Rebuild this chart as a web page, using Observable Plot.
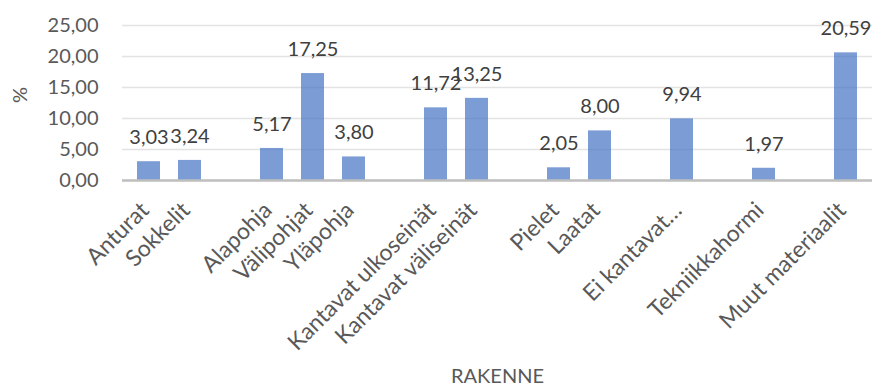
<!DOCTYPE html>
<html>
<head>
<meta charset="utf-8">
<script src="https://cdn.jsdelivr.net/npm/d3@7"></script>
<script src="https://cdn.jsdelivr.net/npm/@observablehq/plot@0.6"></script>
<style>
  html, body { margin: 0; padding: 0; background: white; }
</style>
</head>
<body>
<div id="chart"></div>
<script>
// Categories (empty strings are the blank gaps between groups in the original chart)
const categories = ["Anturat", "Sokkelit", "", "Alapohja", "Välipohjat", "Yläpohja", "",
  "Kantavat ulkoseinät", "Kantavat väliseinät", "", "Pielet", "Laatat", "",
  "Ei kantavat…", "", "Tekniikkahormi", "", "Muut materiaalit"];
const values = [3.03, 3.24, null, 5.17, 17.25, 3.80, null,
  11.72, 13.25, null, 2.05, 8.00, null,
  9.94, null, 1.97, null, 20.59];
const yTicks = [0, 5, 10, 15, 20, 25];
const yLabel = "%";
const xLabel = "RAKENNE";

const data = categories.map((c, i) => ({i, c, v: values[i]}));
const present = data.filter(d => d.v != null);
const fmt = v => v.toFixed(2).replace(".", ",");

const chart = Plot.plot({
  width: 880,
  height: 392,
  marginLeft: 122,
  marginRight: 8,
  marginTop: 25,
  marginBottom: 212,
  style: {fontFamily: "Lato, 'Open Sans', sans-serif", fontSize: "20px", color: "#595959", background: "white"},
  x: {type: "band", domain: d3.range(categories.length), paddingInner: 0.45, paddingOuter: 0.225, align: 0.5, axis: null},
  y: {domain: [0, 25], axis: null},
  marks: [
    Plot.gridY(yTicks, {stroke: "#e3e3e3", strokeOpacity: 1, strokeWidth: 1.5}),
    Plot.barY(present, {x: "i", y: "v", fill: "#4472c4", fillOpacity: 0.7}),
    Plot.ruleY([0], {stroke: "#bfbfbf", strokeWidth: 2.5}),
    Plot.axisY(yTicks, {tickSize: 0, tickPadding: 24, tickFormat: fmt, label: null, fill: "#595959"}),
    Plot.axisX(d3.range(categories.length), {tickSize: 0, tickPadding: 26, tickRotate: -45, dx: -4, fontSize: 23, tickFormat: i => categories[i], label: null, fill: "#595959"}),
    Plot.text(present, {x: "i", y: "v", text: d => fmt(d.v), dy: -24, lineAnchor: "middle", fill: "#404040"}),
    Plot.text([yLabel], {frameAnchor: "left", dx: -102, rotate: -90, fill: "#595959"}),
    Plot.text([xLabel], {frameAnchor: "bottom", dy: 202, fill: "#595959"})
  ]
});
document.getElementById("chart").appendChild(chart);
</script>
</body>
</html>
